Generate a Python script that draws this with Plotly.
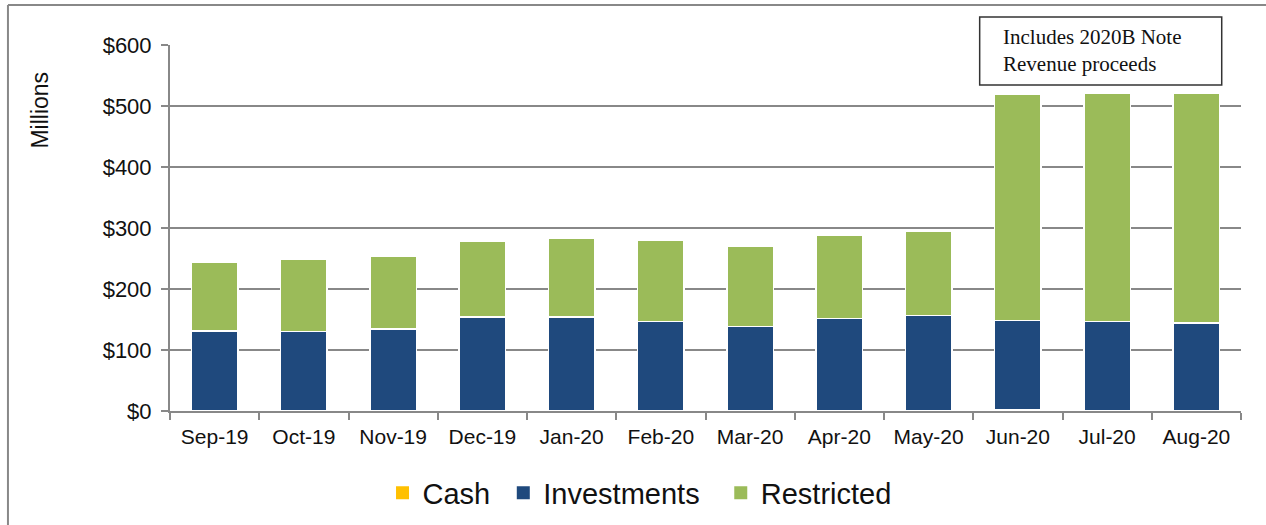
import plotly.graph_objects as go

months = ["Sep-19", "Oct-19", "Nov-19", "Dec-19", "Jan-20", "Feb-20",
          "Mar-20", "Apr-20", "May-20", "Jun-20", "Jul-20", "Aug-20"]
cash = [0.5, 0.5, 0.5, 0.5, 0.5, 0.5, 0.5, 0.5, 0.5, 1.5, 0.5, 0.5]
investments = [131, 130, 134, 154, 154, 146, 138, 151, 156, 147, 146, 144]
restricted = [113, 119, 120, 123, 129, 133, 131, 137, 139, 370, 375, 377]

COLORS = {"Cash": "#FFC000", "Investments": "#1F497D", "Restricted": "#9BBB59"}
SERIES = [("Cash", cash), ("Investments", investments), ("Restricted", restricted)]
# trailing no-break spaces widen the gap between legend entries
LEGEND_PAD = {"Cash": "\u00a0", "Investments": "\u00a0\u00a0", "Restricted": ""}

fig = go.Figure()
for name, vals in SERIES:
    fig.add_trace(
        go.Bar(
            x=months,
            y=vals,
            name=name,
            showlegend=False,
            marker=dict(color=COLORS[name], line=dict(color="white", width=1.5)),
        )
    )

# legend-only entries, so the square swatches can be sized
for name, _ in SERIES:
    fig.add_trace(
        go.Scatter(
            x=[None],
            y=[None],
            mode="markers",
            name=name + LEGEND_PAD[name],
            marker=dict(symbol="square", size=13, color=COLORS[name]),
        )
    )

fig.update_layout(
    barmode="stack",
    bargap=0.48,
    width=1266,
    height=525,
    # no autoexpand: the legend below the plot would otherwise push the bottom margin
    margin=dict(l=170, r=25, t=45, b=114, autoexpand=False),
    paper_bgcolor="white",
    plot_bgcolor="white",
    font=dict(family="Liberation Sans, Arial, sans-serif", color="#111"),
    legend=dict(
        orientation="h",
        x=0.4384,
        xanchor="center",
        y=-0.224,
        yanchor="middle",
        font=dict(size=29),
        itemwidth=30,
        traceorder="normal",
    ),
    xaxis=dict(
        tickson="boundaries",
        ticks="outside",
        ticklen=7,
        tickcolor="#888",
        tickwidth=2,
        showline=True,
        linecolor="#888",
        linewidth=2,
        tickfont=dict(size=21),
        ticklabelstandoff=6,
    ),
    yaxis=dict(
        range=[0, 600],
        dtick=100,
        tickprefix="$",
        ticks="outside",
        ticklen=7,
        tickcolor="#888",
        tickwidth=2,
        showline=True,
        linecolor="#888",
        linewidth=2,
        showgrid=True,
        gridcolor="#888",
        gridwidth=2,
        zeroline=False,
        tickfont=dict(size=22),
        ticklabelstandoff=5,
    ),
)

# y-axis label
fig.add_annotation(
    text="Millions", textangle=-90, xref="paper", yref="paper",
    x=-0.121, y=0.822, xanchor="center", yanchor="middle",
    showarrow=False, font=dict(size=23),
)

# callout box
fig.add_shape(
    type="rect", xref="paper", yref="paper",
    x0=0.756, x1=0.982, y0=0.891, y1=1.0765,
    line=dict(color="#333", width=1.5), fillcolor="white", layer="above",
)
fig.add_annotation(
    text="Includes 2020B Note<br>Revenue proceeds",
    xref="paper", yref="paper", x=0.776, y=0.984,
    xanchor="left", yanchor="middle", align="left", showarrow=False,
    font=dict(family="Liberation Serif, Times New Roman, serif", size=21, color="#111"),
)

# outer frame (left and top edges visible)
fig.add_shape(type="line", xref="paper", yref="paper",
              x0=-0.1513, x1=-0.1513, y0=-0.32, y1=1.1093,
              line=dict(color="#888", width=2))
fig.add_shape(type="line", xref="paper", yref="paper",
              x0=-0.1513, x1=1.03, y0=1.1093, y1=1.1093,
              line=dict(color="#888", width=2))

# drop the default 8px body margin so the figure fills the window exactly
fig.write_html(
    "out.html",
    config={"displayModeBar": False},
    post_script="document.body.style.margin='0';document.body.style.overflow='hidden';",
)
